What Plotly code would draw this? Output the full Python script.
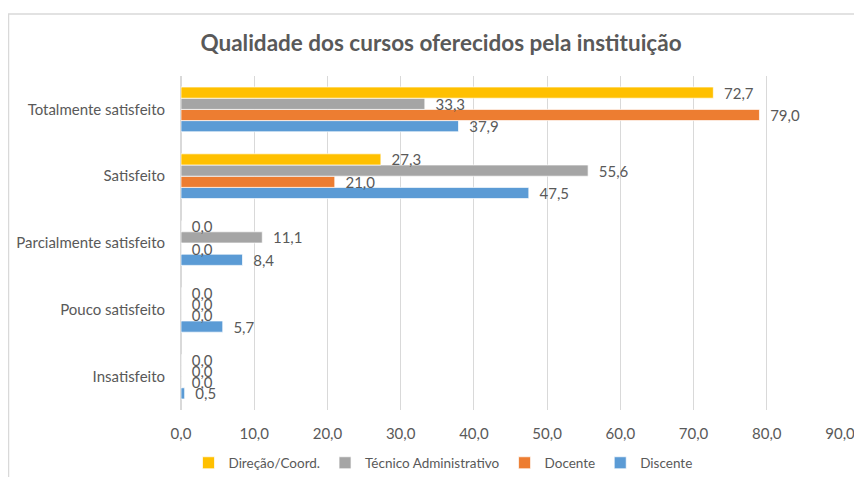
import plotly.graph_objects as go

categories = ["Insatisfeito", "Pouco satisfeito", "Parcialmente satisfeito", "Satisfeito", "Totalmente satisfeito"]
direcao = [0.0, 0.0, 0.0, 27.3, 72.7]
tecnico = [0.0, 0.0, 11.1, 55.6, 33.3]
docente = [0.0, 0.0, 0.0, 21.0, 79.0]
discente = [0.5, 5.7, 8.4, 47.5, 37.9]
x_ticks = [0, 10, 20, 30, 40, 50, 60, 70, 80, 90]

series = [
    ("Discente", discente, "#5B9BD5"),
    ("Docente", docente, "#ED7D31"),
    ("Técnico Administrativo", tecnico, "#A5A5A5"),
    ("Direção/Coord.", direcao, "#FFC000"),
]

FONT = "Lato"
fig = go.Figure()
for name, vals, color in series:
    fig.add_trace(go.Bar(
        y=categories, x=vals, name=name, orientation="h",
        marker=dict(color=color, line=dict(color="white", width=0.7)),
        text=vals, texttemplate="\u00a0\u00a0%{x:.1f}", textposition="outside",
        constraintext="none",
        textfont=dict(family=FONT, size=15, color="#595959"),
        cliponaxis=False,
    ))

# page body has an 8px margin: work in screen pixels and shift
OFF = 8
W, H = 862 - OFF, 477 - OFF
PL, PR, PT, PB = 181, 840, 76, 410  # plot area in screen pixels
L, R, T, B = PL - OFF, W - (PR - OFF), PT - OFF, H - (PB - OFF)
pw, ph = PR - PL, PB - PT


def px(x):
    return (x - PL) / pw


def py(y):
    return (PB - y) / ph


fig.update_layout(
    width=W, height=H,
    margin=dict(l=L, r=R, t=T, b=B, autoexpand=False),
    barmode="group", bargap=0.33, bargroupgap=0,
    separators=",.",
    paper_bgcolor="white", plot_bgcolor="white",
    font=dict(family=FONT, size=15, color="#595959"),
    title=dict(text="<b>Qualidade dos cursos oferecidos pela instituição</b>",
               x=(441 - OFF) / W, xref="container", xanchor="center",
               y=1 - (43 - OFF) / H, yref="container", yanchor="middle",
               font=dict(family=FONT, size=22.5, color="#595959")),
    legend=dict(orientation="h", traceorder="reversed",
                x=px(443), xanchor="center",
                y=py(463), yanchor="middle",
                font=dict(family=FONT, size=13.5, color="#595959"),
                itemwidth=30),
    showlegend=True,
    xaxis=dict(range=[0, 90], tickvals=x_ticks, tickformat=".1f",
               showgrid=True, gridcolor="#D9D9D9", gridwidth=1,
               zeroline=True, zerolinecolor="#D9D9D9", showline=False,
               ticks="", ticklabelstandoff=13, automargin=False,
               tickfont=dict(family=FONT, size=15, color="#595959")),
    yaxis=dict(categoryorder="array", categoryarray=categories,
               showgrid=False, ticks="", ticklabelstandoff=15, automargin=False,
               tickfont=dict(family=FONT, size=15, color="#595959")),
    shapes=[
        dict(type="line", xref="paper", yref="paper",
             x0=px(8.5), x1=px(8.5), y0=py(14), y1=py(500),
             line=dict(color="#D9D9D9", width=1.5)),
        dict(type="line", xref="paper", yref="paper",
             x0=px(8), x1=px(900), y0=py(14), y1=py(14),
             line=dict(color="#D9D9D9", width=1.5)),
    ],
)

fig.write_html("out.html")
